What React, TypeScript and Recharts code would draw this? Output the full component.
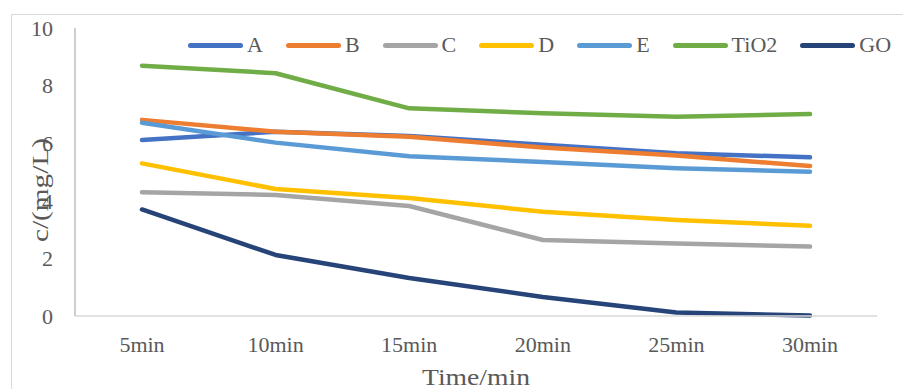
import React from 'react';
import { LineChart, Line, XAxis, YAxis, Label } from 'recharts';

const categories = ['5min', '10min', '15min', '20min', '25min', '30min'];
const seriesA = [6.11, 6.4, 6.25, 5.95, 5.65, 5.51];
const seriesB = [6.81, 6.4, 6.22, 5.85, 5.57, 5.21];
const seriesC = [4.3, 4.2, 3.82, 2.64, 2.52, 2.41];
const seriesD = [5.3, 4.41, 4.1, 3.62, 3.33, 3.13];
const seriesE = [6.71, 6.02, 5.55, 5.35, 5.13, 5.01];
const seriesTiO2 = [8.69, 8.43, 7.21, 7.04, 6.92, 7.01];
const seriesGO = [3.7, 2.12, 1.32, 0.66, 0.12, 0.02];
const yTicks = [0, 2, 4, 6, 8, 10];

const SERIES = [
  { key: 'A', values: seriesA, color: '#4472C4' },
  { key: 'B', values: seriesB, color: '#ED7D31' },
  { key: 'C', values: seriesC, color: '#A5A5A5' },
  { key: 'D', values: seriesD, color: '#FFC000' },
  { key: 'E', values: seriesE, color: '#5B9BD5' },
  { key: 'TiO2', values: seriesTiO2, color: '#70AD47' },
  { key: 'GO', values: seriesGO, color: '#264478' },
];

const data = categories.map((name, i) => {
  const row: Record<string, string | number> = { name };
  SERIES.forEach(s => { row[s.key] = s.values[i]; });
  return row;
});

const FONT = '"Liberation Serif", "Liberation Sans", sans-serif';
const TEXT = '#595959';

export default function App() {
  return (
    <div style={{ position: 'absolute', left: 0, top: 0, width: 903, height: 389, overflow: 'hidden', background: '#fff', fontFamily: FONT }}>
      {/* chart frame, runs past the right and bottom edges */}
      <div style={{ position: 'absolute', left: 11, top: 14, width: 1000, height: 500, border: '1px solid #D9D9D9', boxSizing: 'border-box' }} />

      <LineChart width={903} height={389} data={data} margin={{ top: 28, right: 26, left: 0, bottom: 0 }} style={{ position: 'absolute', left: 0, top: 0 }}>
        <XAxis
          dataKey="name"
          height={73}
          padding={{ left: 67, right: 67 }}
          axisLine={{ stroke: '#D9D9D9', strokeWidth: 1.5 }}
          tickLine={false}
          tickMargin={14}
          tick={{ fill: TEXT, fontSize: 22, fontFamily: FONT }}
        >
          <Label
            content={() => (
              <text x={476} y={385} textAnchor="middle" fill={TEXT} fontSize={23} fontFamily={FONT} textLength={108} lengthAdjust="spacingAndGlyphs">
                Time/min
              </text>
            )}
          />
        </XAxis>
        <YAxis
          width={75}
          domain={[0, 10]}
          ticks={yTicks}
          axisLine={{ stroke: '#BFBFBF', strokeWidth: 1.5 }}
          tickLine={false}
          tickMargin={16}
          tick={{ fill: TEXT, fontSize: 22, fontFamily: FONT }}
        >
          <Label
            content={() => (
              <text x={48} y={190} transform="rotate(-90, 48, 190)" textAnchor="middle" fill={TEXT} fontSize={23} fontFamily={FONT} textLength={104} lengthAdjust="spacingAndGlyphs">
                c/(mg/L)
              </text>
            )}
          />
        </YAxis>
        {SERIES.map(s => (
          <Line
            key={s.key}
            dataKey={s.key}
            type="linear"
            stroke={s.color}
            strokeWidth={4.5}
            strokeLinecap="round"
            strokeLinejoin="round"
            dot={false}
            activeDot={false}
            isAnimationActive={false}
          />
        ))}
      </LineChart>

      {/* legend */}
      <div style={{ position: 'absolute', left: 188, top: 33, display: 'flex', alignItems: 'center', gap: 23, color: TEXT, fontSize: 22, lineHeight: '24px' }}>
        {SERIES.map(s => (
          <div key={s.key} style={{ display: 'flex', alignItems: 'center' }}>
            <div style={{ width: 55, height: 5, borderRadius: 3, background: s.color, marginRight: 4 }} />
            <span>{s.key}</span>
          </div>
        ))}
      </div>
    </div>
  );
}
